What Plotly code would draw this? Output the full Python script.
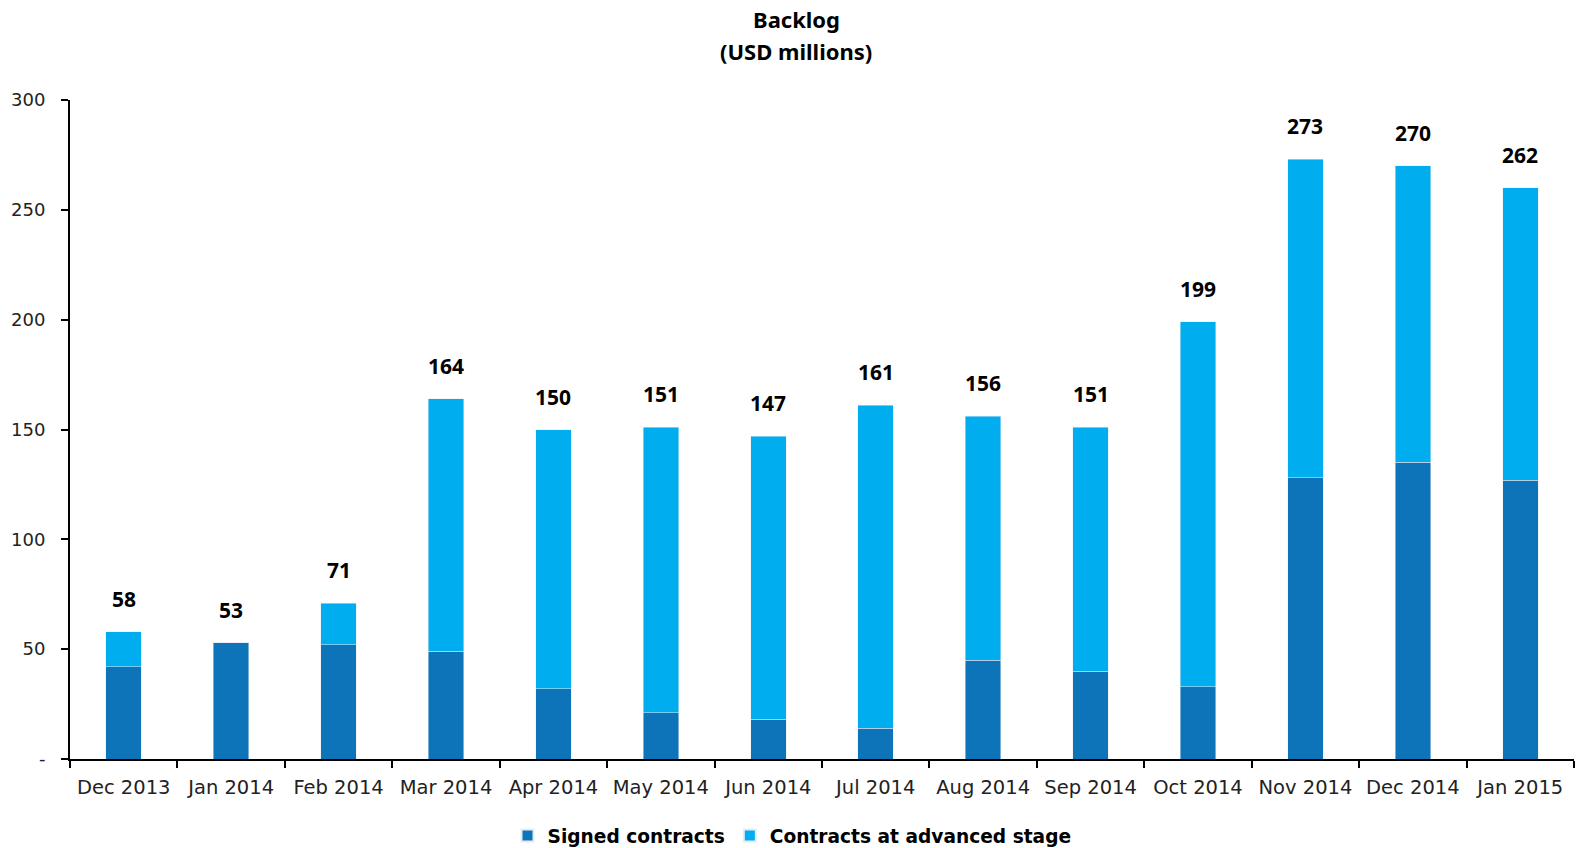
import plotly.graph_objects as go

categories = ["Dec 2013", "Jan 2014", "Feb 2014", "Mar 2014", "Apr 2014", "May 2014", "Jun 2014",
              "Jul 2014", "Aug 2014", "Sep 2014", "Oct 2014", "Nov 2014", "Dec 2014", "Jan 2015"]
signed = [42, 53, 52, 49, 32, 21, 18, 14, 45, 40, 33, 128, 135, 127]
advanced = [16, 0, 19, 115, 118, 130, 129, 147, 111, 111, 166, 145, 135, 133]
total_labels = [58, 53, 71, 164, 150, 151, 147, 161, 156, 151, 199, 273, 270, 262]
y_ticks = [0, 50, 100, 150, 200, 250, 300]
y_tick_text = ["-", "50", "100", "150", "200", "250", "300"]

DARK = "#0E74BA"
LIGHT = "#00AEEF"
AXFONT = "DejaVu Sans"

fig = go.Figure()
fig.add_trace(go.Bar(x=categories, y=signed, name="<b>Signed contracts</b>", marker_color=DARK))
fig.add_trace(go.Bar(x=categories, y=advanced, name="<b>Contracts at advanced stage</b>", marker_color=LIGHT))

bar_tops = [s + a for s, a in zip(signed, advanced)]
for c, top, lab in zip(categories, bar_tops, total_labels):
    fig.add_annotation(x=c, y=top, text=f"<b>{lab}</b>", showarrow=False, yanchor="bottom",
                       yshift=17, font=dict(family="Noto Sans", size=21, color="black"))

title_x = (796 - 70) / (1574 - 70)
fig.add_annotation(text="<b>Backlog</b>", xref="paper", yref="paper", x=title_x, y=1.0,
                   yshift=100 - 19, yanchor="middle", showarrow=False,
                   font=dict(family="Noto Sans", size=22, color="black"))
fig.add_annotation(text="<b>(USD millions)</b>", xref="paper", yref="paper", x=title_x, y=1.0,
                   yshift=100 - 51, yanchor="middle", showarrow=False,
                   font=dict(family="Noto Sans", size=22, color="black"))

fig.update_layout(
    barmode="stack",
    bargap=0.67,
    width=1577, height=848,
    margin=dict(l=70, r=3, t=100, b=89),
    plot_bgcolor="white", paper_bgcolor="white",
    showlegend=True,
    legend=dict(orientation="h", x=(792 - 70) / 1504, xanchor="center",
                yref="container", y=1 - 836 / 848, yanchor="middle",
                font=dict(family=AXFONT, size=18.6, color="black"), itemsizing="constant",
                traceorder="normal"),
)
fig.update_xaxes(showline=True, linecolor="black", linewidth=2, ticks="outside", tickson="boundaries",
                 ticklen=7, tickwidth=2, tickcolor="black", showgrid=False, automargin=False,
                 ticklabelstandoff=10, tickangle=0,
                 tickfont=dict(family=AXFONT, size=19.5, color="#222"))
fig.update_yaxes(range=[0, 300], tickvals=y_ticks, ticktext=y_tick_text, showline=True, linecolor="black",
                 linewidth=2, ticks="outside", ticklen=7, tickwidth=2, tickcolor="black", showgrid=False,
                 zeroline=False, automargin=False, ticklabelstandoff=12,
                 tickfont=dict(family=AXFONT, size=18, color="#222"))

fig.write_html("out.html", config={"displayModeBar": False},
               post_script="document.body.style.margin='0';")
